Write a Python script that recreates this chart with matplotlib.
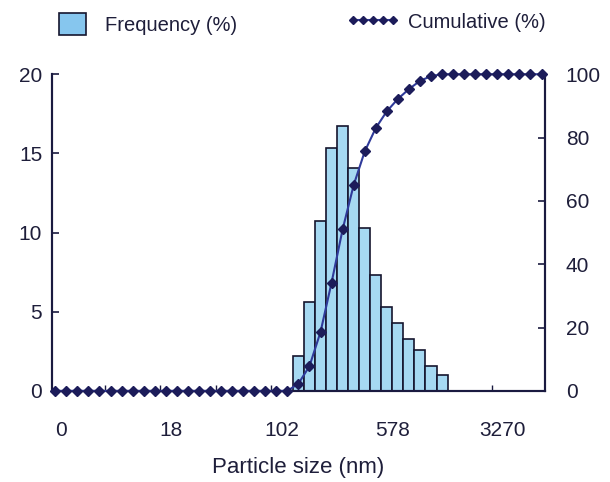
import matplotlib
matplotlib.use("Agg")
import matplotlib.pyplot as plt
from matplotlib.patches import Patch
from matplotlib.lines import Line2D

plt.rcParams['font.family'] = ['Liberation Sans', 'DejaVu Sans']

# ---- data ----
n_bins = 45
bin_index = list(range(n_bins))
freq_bins = list(range(22, 36))
frequency = [2.2, 5.6, 10.7, 15.35, 16.7, 14.1, 10.3, 7.3, 5.3, 4.3, 3.3, 2.6, 1.6, 1.0]
cumulative = [0.0] * 22 + [2.3, 7.8, 18.6, 34.2, 51.0, 65.0, 75.6, 83.0, 88.3,
                           92.2, 95.3, 97.9, 99.4, 100.0] + [100.0] * 9
tick_pos = [0.5, 10.5, 20.5, 30.5, 40.5]
tick_labels = ['0', '18', '102', '578', '3270']
minor_pos = [4.5, 9.5, 14.5, 19.5, 24.5, 29.5, 34.5, 39.5]

text_c = '#1e1e3a'
axis_c = '#1a1a40'
bar_c = '#a6d9f2'
line_c = '#2f3a9a'
mark_c = '#1c1c5a'

fig = plt.figure(figsize=(6.10, 4.82), dpi=100)
ax = fig.add_axes([0.0852, 0.189, 0.808, 0.657])
ax2 = ax.twinx()

ax.bar(freq_bins, frequency, width=1.0, color=bar_c, edgecolor='#15152e',
       linewidth=1.2, zorder=2)
ax2.plot(bin_index, cumulative, color=line_c, lw=1.5, marker='D', ms=4.8,
         mfc=mark_c, mec=mark_c, clip_on=False, zorder=3)

ax.set_xlim(-0.3, 44.3)
ax.set_ylim(0, 20)
ax2.set_ylim(0, 100)

ax.set_yticks([0, 5, 10, 15, 20])
ax2.set_yticks([0, 20, 40, 60, 80, 100])
ax.set_xticks(tick_pos)
ax.set_xticklabels(tick_labels)
ax.set_xticks(minor_pos, minor=True)

for a in (ax, ax2):
    a.spines['top'].set_visible(False)
    for s in ('left', 'right', 'bottom'):
        a.spines[s].set_color(axis_c)
        a.spines[s].set_linewidth(1.5)

ax.tick_params(axis='y', direction='in', length=5, width=1.2, color=axis_c,
               labelsize=15, labelcolor=text_c, pad=7)
ax2.tick_params(axis='y', direction='in', length=5, width=1.2, color=axis_c,
                labelsize=15, labelcolor=text_c, pad=15)
ax.tick_params(axis='x', which='major', length=0, labelsize=15,
               labelcolor=text_c, pad=22)
ax.tick_params(axis='x', which='minor', direction='in', length=4, width=1.0,
               color=axis_c)

ax.set_xlabel('Particle size (nm)', fontsize=16, color=text_c, labelpad=12)

h1 = Patch(facecolor='#86c6ee', edgecolor='#15152e', linewidth=1.2)
h2 = Line2D([], [], color=line_c, lw=1.5, marker='D', ms=4.0,
            mfc=mark_c, mec=mark_c)
fig.legend([h1], ['Frequency (%)'], loc='center left',
           bbox_to_anchor=(59 / 610, 1 - 24 / 482), frameon=False,
           fontsize=14.5, handlelength=1.35, handleheight=1.35,
           handletextpad=0.95, borderpad=0, borderaxespad=0,
           labelcolor=text_c)
fig.legend([h2], ['Cumulative (%)'], loc='center left',
           bbox_to_anchor=(347 / 610, 1 - 22 / 482), frameon=False,
           fontsize=14.5, handlelength=2.6, numpoints=5,
           handletextpad=0.45, borderpad=0, borderaxespad=0,
           labelcolor=text_c)

fig.savefig('out.png', dpi=100)
